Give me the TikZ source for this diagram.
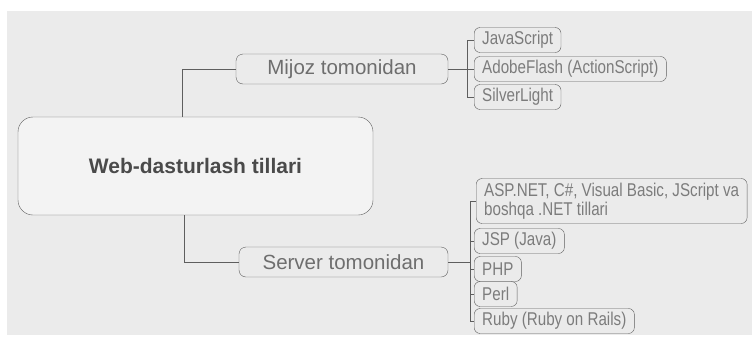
\documentclass[tikz,border=0pt]{standalone}
\usepackage{fontspec}
\setmainfont{Liberation Sans}
\newfontfamily\narrowfont[FakeStretch=0.82]{Liberation Sans}
\usetikzlibrary{positioning}
\definecolor{paper}{HTML}{EBEBEB}
\definecolor{edge}{HTML}{5E5E5E}
\definecolor{ink}{HTML}{4A4A4A}
\definecolor{softink}{HTML}{6E6E6E}
\definecolor{leafink}{HTML}{7C7C7C}
\begin{document}
\begin{tikzpicture}[
        x=1pt, y=-1pt,
        root/.style={rectangle, draw=edge, fill=paper!60, rounded corners=15pt,
            minimum width=355pt, minimum height=98pt, text=ink,
            font=\fontsize{21}{25}\selectfont\bfseries},
        branch/.style={rectangle, draw=edge, rounded corners=7pt,
            minimum height=30pt, text=softink,
            font=\fontsize{20.5}{24}\selectfont},
        leaf/.style={rectangle, draw=edge, rounded corners=6pt, anchor=west,
            minimum height=25pt, inner xsep=8pt, inner ysep=1pt, align=left,
            text=leafink, font=\narrowfont\fontsize{18.5}{19.5}\selectfont},
        link/.style={draw=edge, line width=0.8pt}
    ]
        \fill[paper] (7,11) rectangle (752,335);
        \useasboundingbox (0,0) rectangle (752,338);

        % root and the two sides
        \node[root] (main) at (195.5,166) {Web-dasturlash tillari};
        \node[branch, minimum width=212pt] (client) at (342,69) {Mijoz tomonidan};
        \node[branch, minimum width=209pt] (server) at (343.5,262) {Server tomonidan};

        % client side
        \node[leaf] (js) at (474,40) {JavaScript};
        \node[leaf] (flash) at (474,69) {AdobeFlash (ActionScript)};
        \node[leaf] (silver) at (474,97) {SilverLight};

        % server side
        \node[leaf, minimum height=45pt] (asp) at (476,201)
            {ASP.NET, C\#, Visual Basic, JScript va\\boshqa .NET tillari};
        \node[leaf] (jsp) at (474,241) {JSP (Java)};
        \node[leaf] (php) at (474,269) {PHP};
        \node[leaf] (perl) at (474,294) {Perl};
        \node[leaf] (ruby) at (474,321) {Ruby (Ruby on Rails)};

        \draw[link] ([xshift=-13.5pt]main.north) |- (client.west);
        \draw[link] ([xshift=-11.5pt]main.south) |- (server.west);

        \draw[link] (client.east) -- ++(19,0) coordinate (cb);
        \draw[link] (js.west -| cb) -- (silver.west -| cb);
        \foreach \n in {js,flash,silver}
            \draw[link] (\n.west -| cb) -- (\n.west);

        \draw[link] (server.east) -- ++(22,0) coordinate (sb);
        \draw[link] (asp.west -| sb) -- (ruby.west -| sb);
        \foreach \n in {asp,jsp,php,perl,ruby}
            \draw[link] (\n.west -| sb) -- (\n.west);
    \end{tikzpicture}
\end{document}
